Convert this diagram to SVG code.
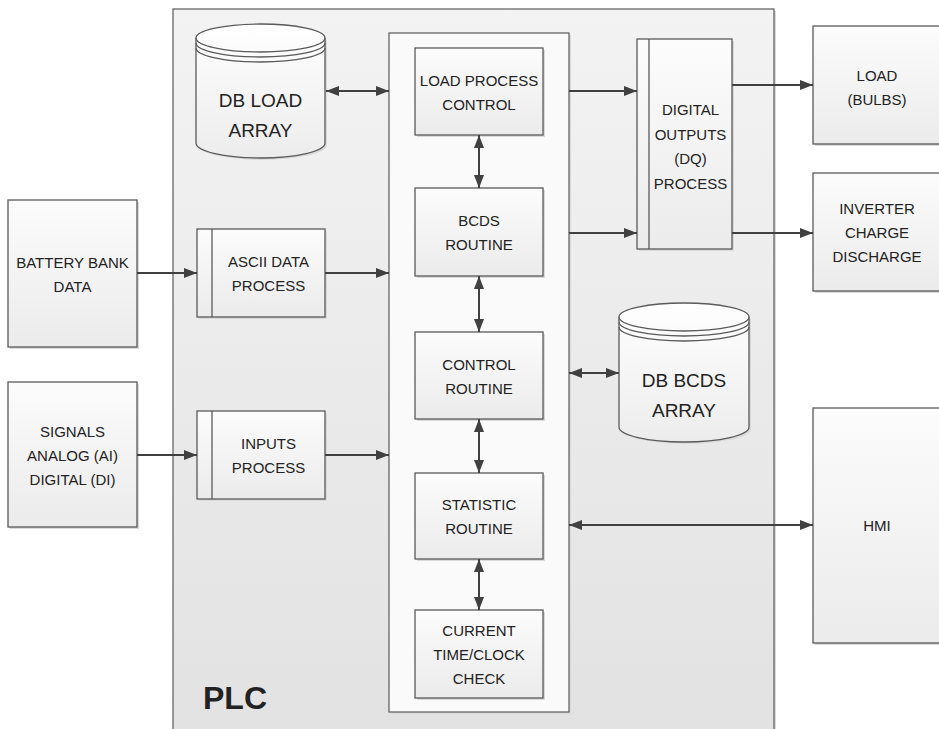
<svg xmlns="http://www.w3.org/2000/svg" width="939" height="729" viewBox="0 0 939 729">
<defs>
<linearGradient id="gBox" x1="0" y1="0" x2="0" y2="1"><stop offset="0" stop-color="#fcfcfc"/><stop offset="1" stop-color="#ebebeb"/></linearGradient>
<linearGradient id="gPlc" x1="0" y1="0" x2="0" y2="1"><stop offset="0" stop-color="#f3f3f3"/><stop offset="1" stop-color="#e2e2e2"/></linearGradient>
<linearGradient id="gCyl" x1="0" y1="0" x2="0" y2="1"><stop offset="0" stop-color="#ffffff"/><stop offset="1" stop-color="#ececec"/></linearGradient>
<marker id="ah" viewBox="0 0 13 10" refX="13" refY="5" markerWidth="13" markerHeight="10" markerUnits="userSpaceOnUse" orient="auto-start-reverse"><path d="M0,0 L13,5 L0,10 Z" fill="#404040"/></marker>
<style>
.box{fill:url(#gBox);stroke:#5a5a5a;stroke-width:1.3}
.sh{fill:#dadada}
.cyl{fill:url(#gCyl);stroke:#5a5a5a;stroke-width:1.3}
.cl{fill:none;stroke:#5a5a5a;stroke-width:1.3}
.t{font-family:"Liberation Sans",Arial,sans-serif;font-size:15px;fill:#222;text-anchor:middle}
.tb{font-family:"Liberation Sans",Arial,sans-serif;font-size:19px;fill:#222;text-anchor:middle}
.plc{font-family:"Liberation Sans",Arial,sans-serif;font-size:32px;font-weight:bold;fill:#222}
.c{fill:none;stroke:#404040;stroke-width:2}
</style>
</defs>
<rect width="939" height="729" fill="#ffffff"/>

<g id="plc">
<rect x="175" y="11" width="601" height="730" class="sh"/>
<rect x="173" y="9" width="601" height="730" fill="url(#gPlc)" stroke="#666" stroke-width="1.3"/>
<text x="203" y="709" class="plc">PLC</text>
</g>
<g id="core">
<rect x="391" y="35" width="180" height="679" class="sh"/>
<rect x="389" y="33" width="180" height="679" fill="#fafafa" stroke="#666" stroke-width="1.3"/>
</g>

<g id="db-load">
<path d="M198,40 L198,145 A64.5,15 0 0 0 327,145 L327,40 Z" class="sh"/>
<path d="M196,38 L196,143 A64.5,15 0 0 0 325,143 L325,38 A64.5,14 0 0 0 196,38 Z" class="cyl"/>
<path d="M196,38 A64.5,14 0 0 0 325,38 M196,43 A64.5,14 0 0 0 325,43 M196,48 A64.5,14 0 0 0 325,48" class="cl"/>
<text x="260.5" y="107" class="tb">DB LOAD</text>
<text x="260.5" y="137" class="tb">ARRAY</text>
</g>

<g id="db-bcds">
<path d="M621,319 L621,429 A65,15 0 0 0 751,429 L751,319 Z" class="sh"/>
<path d="M619,317 L619,427 A65,15 0 0 0 749,427 L749,317 A65,14 0 0 0 619,317 Z" class="cyl"/>
<path d="M619,317 A65,14 0 0 0 749,317 M619,322 A65,14 0 0 0 749,322 M619,327 A65,14 0 0 0 749,327" class="cl"/>
<text x="684" y="387" class="tb">DB BCDS</text>
<text x="684" y="417" class="tb">ARRAY</text>
</g>

<g id="load-process-control">
<rect x="417" y="50" width="128" height="87" class="sh"/>
<rect x="415" y="48" width="128" height="87" class="box"/>
<text x="479" y="86" class="t">LOAD PROCESS</text>
<text x="479" y="110" class="t">CONTROL</text>
</g>
<g id="bcds-routine">
<rect x="417" y="190" width="128" height="88" class="sh"/>
<rect x="415" y="188" width="128" height="88" class="box"/>
<text x="479" y="226" class="t">BCDS</text>
<text x="479" y="250" class="t">ROUTINE</text>
</g>
<g id="control-routine">
<rect x="417" y="334" width="128" height="87" class="sh"/>
<rect x="415" y="332" width="128" height="87" class="box"/>
<text x="479" y="370" class="t">CONTROL</text>
<text x="479" y="394" class="t">ROUTINE</text>
</g>
<g id="statistic-routine">
<rect x="417" y="475" width="128" height="86" class="sh"/>
<rect x="415" y="473" width="128" height="86" class="box"/>
<text x="479" y="510" class="t">STATISTIC</text>
<text x="479" y="534" class="t">ROUTINE</text>
</g>
<g id="current-time">
<rect x="417" y="612" width="128" height="88" class="sh"/>
<rect x="415" y="610" width="128" height="88" class="box"/>
<text x="479" y="636" class="t">CURRENT</text>
<text x="479" y="660" class="t">TIME/CLOCK</text>
<text x="479" y="684" class="t">CHECK</text>
</g>

<g id="ascii-data-process">
<rect x="199" y="231" width="128" height="88" class="sh"/>
<rect x="197" y="229" width="128" height="88" class="box"/>
<line x1="212" y1="229" x2="212" y2="317" class="cl"/>
<text x="268.5" y="267" class="t">ASCII DATA</text>
<text x="268.5" y="291" class="t">PROCESS</text>
</g>
<g id="inputs-process">
<rect x="199" y="413" width="128" height="88" class="sh"/>
<rect x="197" y="411" width="128" height="88" class="box"/>
<line x1="212" y1="411" x2="212" y2="499" class="cl"/>
<text x="268.5" y="449" class="t">INPUTS</text>
<text x="268.5" y="473" class="t">PROCESS</text>
</g>
<g id="digital-outputs">
<rect x="639" y="41" width="95" height="210" class="sh"/>
<rect x="637" y="39" width="95" height="210" class="box"/>
<line x1="649" y1="39" x2="649" y2="249" class="cl"/>
<text x="690.5" y="115" class="t">DIGITAL</text>
<text x="690.5" y="139.5" class="t">OUTPUTS</text>
<text x="690.5" y="164" class="t">(DQ)</text>
<text x="690.5" y="188.5" class="t">PROCESS</text>
</g>

<g id="battery-bank">
<rect x="10" y="202" width="129" height="147" class="sh"/>
<rect x="8" y="200" width="129" height="147" class="box"/>
<text x="72.5" y="267.5" class="t">BATTERY BANK</text>
<text x="72.5" y="291.5" class="t">DATA</text>
</g>
<g id="signals">
<rect x="10" y="384" width="129" height="145" class="sh"/>
<rect x="8" y="382" width="129" height="145" class="box"/>
<text x="72.5" y="437" class="t">SIGNALS</text>
<text x="72.5" y="461" class="t">ANALOG (AI)</text>
<text x="72.5" y="485" class="t">DIGITAL (DI)</text>
</g>

<g id="load-bulbs">
<rect x="815" y="28" width="128" height="118" class="sh"/>
<rect x="813" y="26" width="128" height="118" class="box"/>
<text x="877" y="81" class="t">LOAD</text>
<text x="877" y="105" class="t">(BULBS)</text>
</g>
<g id="inverter">
<rect x="815" y="175" width="128" height="118" class="sh"/>
<rect x="813" y="173" width="128" height="118" class="box"/>
<text x="877" y="214" class="t">INVERTER</text>
<text x="877" y="238" class="t">CHARGE</text>
<text x="877" y="262" class="t">DISCHARGE</text>
</g>
<g id="hmi">
<rect x="815" y="410" width="128" height="235" class="sh"/>
<rect x="813" y="408" width="128" height="235" class="box"/>
<text x="877" y="531" class="t">HMI</text>
</g>

<g id="connectors">
<line x1="326" y1="91" x2="389" y2="91" class="c" marker-start="url(#ah)" marker-end="url(#ah)"/>
<line x1="479" y1="135" x2="479" y2="188" class="c" marker-start="url(#ah)" marker-end="url(#ah)"/>
<line x1="479" y1="276" x2="479" y2="332" class="c" marker-start="url(#ah)" marker-end="url(#ah)"/>
<line x1="479" y1="419" x2="479" y2="473" class="c" marker-start="url(#ah)" marker-end="url(#ah)"/>
<line x1="479" y1="559" x2="479" y2="610" class="c" marker-start="url(#ah)" marker-end="url(#ah)"/>
<line x1="569" y1="91" x2="637" y2="91" class="c" marker-end="url(#ah)"/>
<line x1="569" y1="233" x2="637" y2="233" class="c" marker-end="url(#ah)"/>
<line x1="732" y1="85" x2="813" y2="85" class="c" marker-end="url(#ah)"/>
<line x1="732" y1="233" x2="813" y2="233" class="c" marker-end="url(#ah)"/>
<line x1="137" y1="273" x2="197" y2="273" class="c" marker-end="url(#ah)"/>
<line x1="325" y1="273" x2="389" y2="273" class="c" marker-end="url(#ah)"/>
<line x1="137" y1="455" x2="197" y2="455" class="c" marker-end="url(#ah)"/>
<line x1="325" y1="455" x2="389" y2="455" class="c" marker-end="url(#ah)"/>
<line x1="569" y1="373" x2="619" y2="373" class="c" marker-start="url(#ah)" marker-end="url(#ah)"/>
<line x1="569" y1="525" x2="813" y2="525" class="c" marker-start="url(#ah)" marker-end="url(#ah)"/>
</g>
</svg>
